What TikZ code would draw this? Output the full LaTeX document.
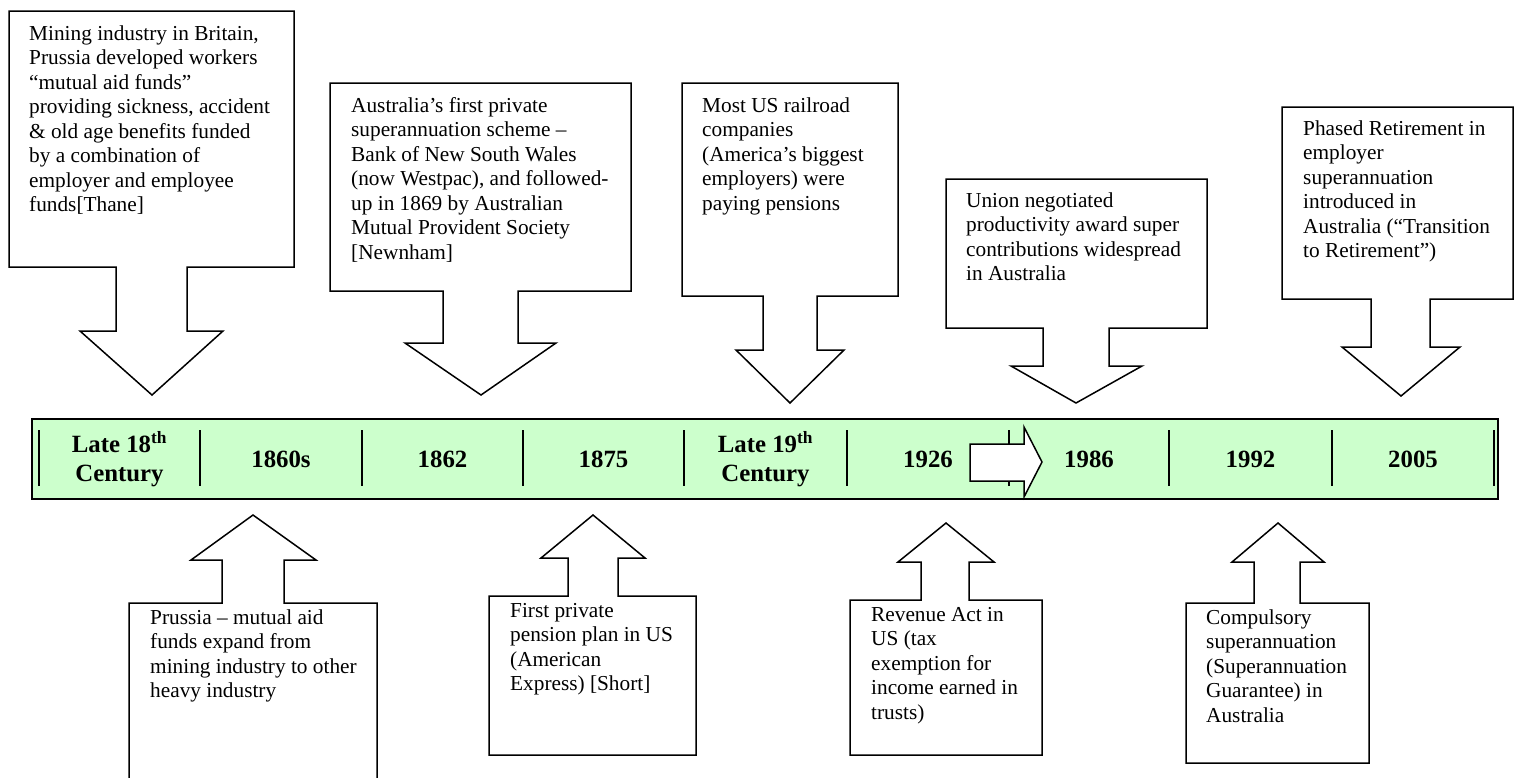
\documentclass[tikz,border=0pt]{standalone}
\usepackage{fontspec}
\setmainfont{Liberation Serif}
\definecolor{barGreen}{HTML}{CCFFCC}
\tikzset{
  callout/.style={draw=black, line width=1.5pt, fill=white, line join=miter},
  note/.style={anchor=north west, inner sep=0pt, align=left, font=\fontsize{21.3}{24.5}\selectfont},
  year/.style={inner sep=0pt, align=center, font=\fontsize{24.8}{28.6}\selectfont\bfseries},
  timebar/.style={draw=black, line width=2.5pt, fill=barGreen, inner sep=0pt, minimum width=1466pt, minimum height=80pt},
  tick/.style={draw=black, line width=2pt}
}
\begin{document}
\begin{tikzpicture}[x=1pt, y=-1pt]
\useasboundingbox (0,0) rectangle (1515,777);
% timeline bar
\node[timebar] (bar) at (765,459) {};
\foreach \x in {39,200,362,523,684,847,1009,1169,1332,1494}
  \draw[tick] (\x,430) -- (\x,486);
\draw[callout] (970,444) -- (1024,444) -- (1024,427) -- (1042,462) -- (1024,497) -- (1024,481) -- (970,481) -- cycle;
\node[year] (late18) at (119.5,459) {Late 18\textsuperscript{th}\\Century};
\node[year] (y1860s) at (281,459) {1860s};
\node[year] (y1862) at (442.5,459) {1862};
\node[year] (y1875) at (603.5,459) {1875};
\node[year] (late19) at (765.5,459) {Late 19\textsuperscript{th}\\Century};
\node[year] (y1926) at (928,459) {1926};
\node[year] (y1986) at (1089,459) {1986};
\node[year] (y1992) at (1250.5,459) {1992};
\node[year] (y2005) at (1413,459) {2005};
% callouts above the bar
\draw[callout] (9,11) -- (294,11) -- (294,267) -- (187,267) -- (187,331) -- (223,331) -- (152,395) -- (80,331) -- (116,331) -- (116,267) -- (9,267) -- cycle;
\node[note] (mining) at (29,23) {\strut Mining industry in Britain,\\Prussia developed workers\\“mutual aid funds”\\providing sickness, accident\\\& old age benefits funded\\by a combination of\\employer and employee\\funds[Thane]};
\draw[callout] (330,83) -- (631,83) -- (631,291) -- (518,291) -- (518,343) -- (556,343) -- (481,395) -- (405,343) -- (443,343) -- (443,291) -- (330,291) -- cycle;
\node[note] (bankNSW) at (351,95) {\strut Australia’s first private\\superannuation scheme –\\Bank of New South Wales\\(now Westpac), and followed-\\up in 1869 by Australian\\Mutual Provident Society\\{[}Newnham]};
\draw[callout] (682,83) -- (898,83) -- (898,296) -- (817,296) -- (817,350) -- (844,350) -- (790,403) -- (736,350) -- (763,350) -- (763,296) -- (682,296) -- cycle;
\node[note] (railroad) at (702,95) {\strut Most US railroad\\companies\\(America’s biggest\\employers) were\\paying pensions};
\draw[callout] (946,179) -- (1207,179) -- (1207,328) -- (1109,328) -- (1109,366) -- (1142,366) -- (1076,403) -- (1011,366) -- (1043,366) -- (1043,328) -- (946,328) -- cycle;
\node[note] (union) at (966,190) {\strut Union negotiated\\productivity award super\\contributions widespread\\in Australia};
\draw[callout] (1282,107) -- (1513,107) -- (1513,299) -- (1430,299) -- (1430,347) -- (1460,347) -- (1401,396) -- (1342,347) -- (1371,347) -- (1371,299) -- (1282,299) -- cycle;
\node[note] (phased) at (1303,118) {\strut Phased Retirement in\\employer\\superannuation\\introduced in\\Australia (“Transition\\to Retirement”)};
% callouts below the bar
\draw[callout] (129,790) -- (129,603) -- (222,603) -- (222,560) -- (191,560) -- (253,515) -- (316,560) -- (284,560) -- (284,603) -- (377,603) -- (377,790);
\node[note] (prussia) at (150,607) {\strut Prussia – mutual aid\\funds expand from\\mining industry to other\\heavy industry};
\draw[callout] (489,596) -- (568,596) -- (568,558) -- (541,558) -- (593,515) -- (645,558) -- (618,558) -- (618,596) -- (696,596) -- (696,755) -- (489,755) -- cycle;
\node[note] (amex) at (510,600) {\strut First private\\pension plan in US\\(American\\Express) [Short]};
\draw[callout] (850,600) -- (921,600) -- (921,562) -- (898,562) -- (946,523) -- (994,562) -- (969,562) -- (969,600) -- (1042,600) -- (1042,755) -- (850,755) -- cycle;
\node[note] (revenue) at (871,604) {\strut Revenue Act in\\US (tax\\exemption for\\income earned in\\trusts)};
\draw[callout] (1186,603) -- (1254,603) -- (1254,562) -- (1232,562) -- (1278,523) -- (1324,562) -- (1300,562) -- (1300,603) -- (1369,603) -- (1369,763) -- (1186,763) -- cycle;
\node[note] (compulsory) at (1206,607) {\strut Compulsory\\superannuation\\(Superannuation\\Guarantee) in\\Australia};
\end{tikzpicture}
\end{document}
